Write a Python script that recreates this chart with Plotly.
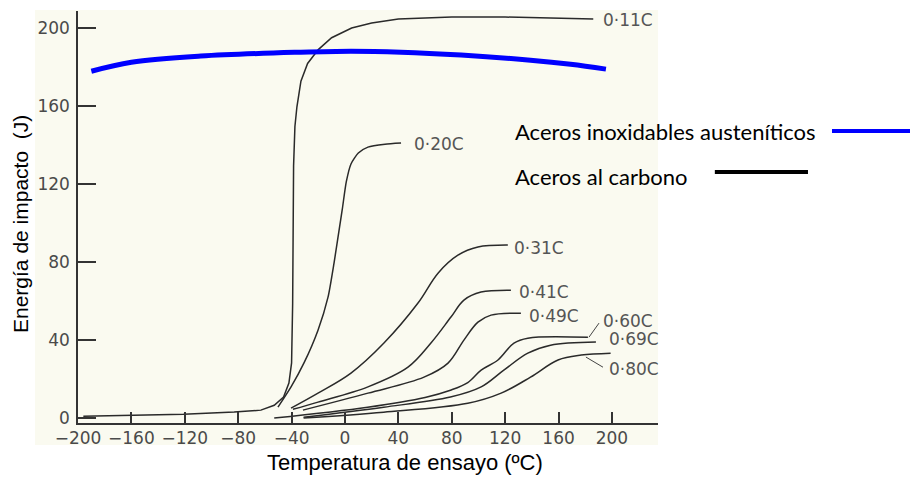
import plotly.graph_objects as go

# ---------------- data ----------------
T_011 = [-196, -158, -121, -83, -63, -53, -46, -42, -40, -39.2, -39, -38.5, -37.5, -36, -33, -28, -20, -10, 5, 20, 40, 80, 120, 160, 186]
E_011 = [1, 1.5, 2, 3.1, 4.1, 6.6, 10.8, 18, 28.3, 58.6, 96, 129.3, 149.5, 159.6, 172.7, 181.8, 188.9, 195, 200, 202.5, 204.6, 205.6, 205.6, 205.1, 204.6]

T_020 = [-50.2, -40.4, -30.7, -20.2, -12.7, -8.2, -4.5, -2, 1, 4.5, 10, 17.2, 30, 42]
E_020 = [5.6, 16, 28.3, 45.1, 62, 79.5, 96, 107.1, 121.2, 130.3, 135.9, 138.9, 140.4, 141]

T_031 = [-40.4, -20.2, 4.5, 29.2, 54.7, 69.7, 84.6, 99.6, 122]
E_031 = [5.1, 12.8, 23.1, 38.5, 59, 74.3, 83.5, 87.7, 88.7]

T_041 = [-39, -20.2, 17.2, 47.2, 64.4, 79.4, 89.1, 101.9, 124.3]
E_041 = [4.5, 8.2, 16, 26.1, 38.5, 51.8, 60.5, 64.6, 65.6]

T_049 = [-31.5, 17.2, 59.2, 77.2, 89.1, 99.6, 109.4, 131.8]
E_049 = [4.1, 12.8, 21, 28.2, 40, 49.2, 52.8, 53.8]

T_060 = [-53, 17, 60, 79, 92, 102, 114.6, 126.6, 137, 182]
E_060 = [0, 5.6, 10.6, 14.3, 18.2, 24.6, 29.8, 38.5, 41, 41.4]

T_069 = [-31, 29, 79, 102, 119, 137, 154, 188]
E_069 = [0.5, 5.6, 10.8, 16, 24.6, 33.3, 37.4, 39]

T_080 = [-31, 29, 92, 117, 139, 159.6, 177, 199]
E_080 = [0, 3, 7.6, 12.8, 21, 29.8, 32.3, 33.3]

T_aus = [-190, -160, -108, -33, 4.5, 42, 87, 139, 169, 195.5]
E_aus = [177.8, 182.4, 185.6, 187.6, 188.1, 187.6, 186.1, 183.5, 181.4, 178.9]

x_ticks = [-200, -160, -120, -80, -40, 0, 40, 80, 120, 160, 200]
y_ticks = [0, 40, 80, 120, 160, 200]

curve_names = ["0·11C", "0·20C", "0·31C", "0·41C", "0·49C", "0·60C", "0·69C", "0·80C"]
label_T = [192, 50, 125, 129, 136.5, 192, 196, 196]
label_E = [204.1, 140.4, 87.2, 64.6, 52.3, 49.7, 40.5, 25.1]

# ---------------- figure ----------------
fig = go.Figure()

INK = "#2a2a2a"
carbon = [(T_011, E_011), (T_020, E_020), (T_031, E_031), (T_041, E_041),
          (T_049, E_049), (T_060, E_060), (T_069, E_069), (T_080, E_080)]
for i, (t, e) in enumerate(carbon):
    if i == 0:
        ln = dict(color=INK, width=1.5, shape="linear")
    else:
        ln = dict(color=INK, width=1.5, shape="spline", smoothing=0.6 if i == 1 else 1.0)
    fig.add_trace(go.Scatter(
        x=t, y=e, mode="lines", name=curve_names[i], showlegend=False,
        line=ln, hoverinfo="skip"))

fig.add_trace(go.Scatter(
    x=T_aus, y=E_aus, mode="lines", name="Aceros inoxidables austeníticos",
    showlegend=False, line=dict(color="#0000ff", width=5, shape="spline", smoothing=1.0)))

# curve labels
for name, tx, ey in zip(curve_names, label_T, label_E):
    fig.add_annotation(x=tx, y=ey, xref="x", yref="y", text=name, showarrow=False,
                       xanchor="left", yanchor="middle",
                       font=dict(family="DejaVu Sans", size=17, color="#555555"))

# leader lines for 0·60C and 0·80C
fig.add_shape(type="line", xref="x", yref="y", x0=182.8, y0=41.5, x1=190.3, y1=48.7,
              line=dict(color="#444444", width=1))
fig.add_shape(type="line", xref="x", yref="y", x0=180.5, y0=31.3, x1=193.3, y1=26.1,
              line=dict(color="#444444", width=1))

# scanned-paper background
fig.add_shape(type="rect", xref="paper", yref="paper", x0=-0.0741, x1=1.0, y0=-0.0534, y1=1.0024,
              fillcolor="#fafaf0", line=dict(width=0), layer="below")

# axis titles
fig.add_annotation(x=0.564, y=-0.0947, xref="paper", yref="paper", showarrow=False,
                   text="Temperatura de ensayo (ºC)", xanchor="center", yanchor="middle",
                   font=dict(family="Liberation Sans", size=22, color="#000000"))
fig.add_annotation(x=-0.1, y=0.483, xref="paper", yref="paper", showarrow=False,
                   text="Energía de impacto  (J)", textangle=-90, xanchor="center", yanchor="middle",
                   font=dict(family="Liberation Sans", size=21, color="#000000"))

# legend (manual)
fig.add_annotation(x=0.75, y=0.7087, xref="paper", yref="paper", showarrow=False,
                   text="Aceros inoxidables austeníticos", xanchor="left", yanchor="middle",
                   font=dict(family="Lato", size=22, color="#000000"))
fig.add_annotation(x=0.75, y=0.5995, xref="paper", yref="paper", showarrow=False,
                   text="Aceros al carbono", xanchor="left", yanchor="middle",
                   font=dict(family="Lato", size=22, color="#000000"))
fig.add_shape(type="line", xref="paper", yref="paper", x0=1.3, x1=1.448, y0=0.7087, y1=0.7087,
              line=dict(color="#0000ff", width=4))
fig.add_shape(type="line", xref="paper", yref="paper", x0=1.098, x1=1.2586, y0=0.609, y1=0.609,
              line=dict(color="#000000", width=4))

tickfont = dict(family="DejaVu Sans", size=17, color="#4a4a4a")
fig.update_xaxes(range=[-200, 234.5], tickvals=x_ticks, ticks="inside", ticklen=11, tickwidth=1.5,
                 tickcolor="#333333", showline=True, linecolor="#333333", linewidth=1.5,
                 showgrid=False, zeroline=False, tickfont=tickfont, ticklabelstandoff=-1)
fig.update_yaxes(range=[-2.5, 208.7], tickvals=y_ticks, ticks="inside", ticklen=18, tickwidth=1.5,
                 tickcolor="#333333", showline=True, linecolor="#333333", linewidth=1.5,
                 showgrid=False, zeroline=False, tickfont=tickfont, ticklabelstandoff=3)

fig.update_layout(
    width=910, height=469,
    margin=dict(l=70, r=260, t=3, b=54),
    paper_bgcolor="#ffffff", plot_bgcolor="rgba(0,0,0,0)",
    showlegend=False,
)

fig.write_html("out.html")
